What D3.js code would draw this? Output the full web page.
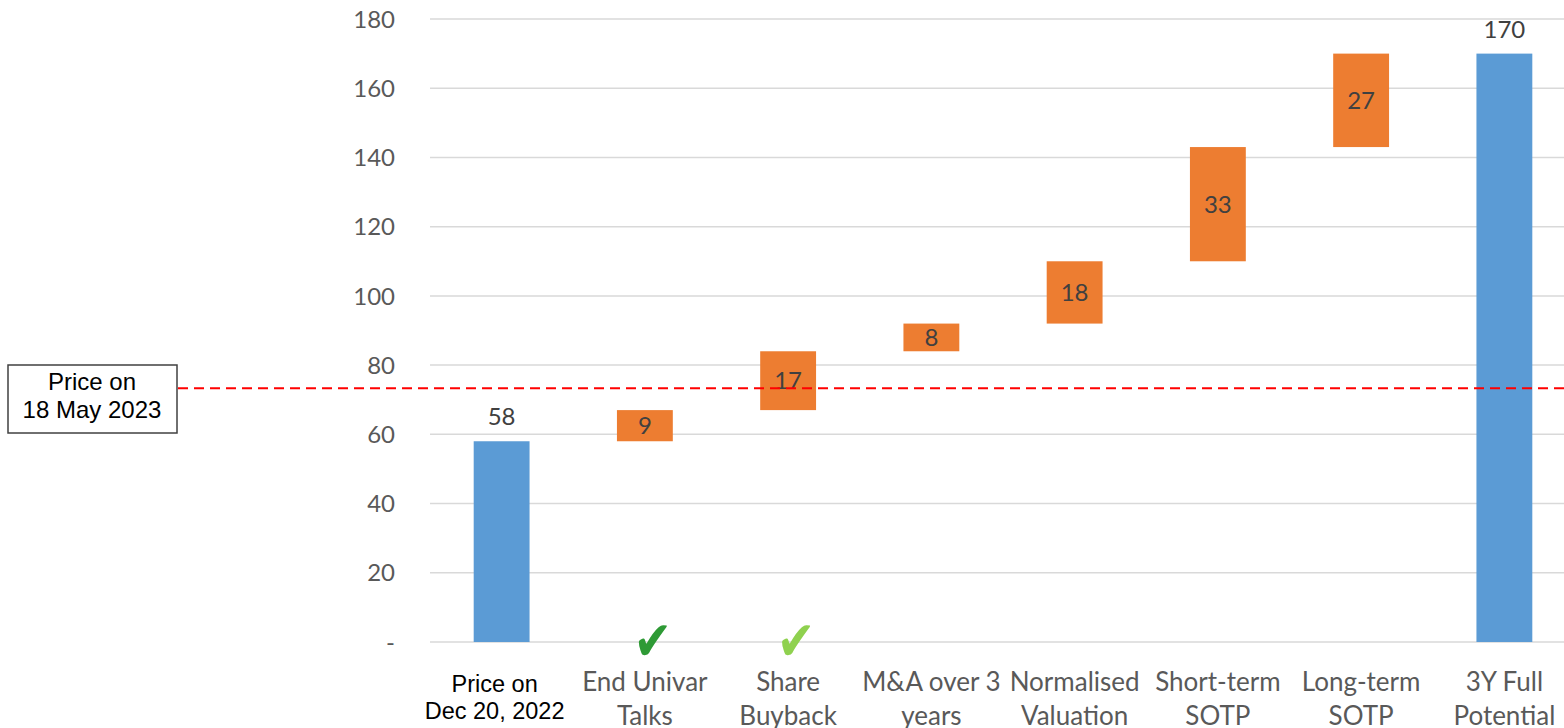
<!DOCTYPE html>
<html>
<head>
<meta charset="utf-8">
<script src="https://cdn.jsdelivr.net/npm/d3@7"></script>
<style>
  body { margin: 0; background: #fff; }
  svg { display: block; }
</style>
</head>
<body>
<div id="chart"></div>
<script>
// waterfall data
const categories = ["Price on Dec 20, 2022", "End Univar Talks", "Share Buyback", "M&A over 3 years",
  "Normalised Valuation", "Short-term SOTP", "Long-term SOTP", "3Y Full Potential"];
const labelLines = [["Price on", "Dec 20, 2022"], ["End Univar", "Talks"], ["Share", "Buyback"],
  ["M&A over 3", "years"], ["Normalised", "Valuation"], ["Short-term", "SOTP"], ["Long-term", "SOTP"],
  ["3Y Full", "Potential"]];
const steps = [58, 9, 17, 8, 18, 33, 27, 170];
const kinds = ["total", "delta", "delta", "delta", "delta", "delta", "delta", "total"];
const yTicks = [0, 20, 40, 60, 80, 100, 120, 140, 160, 180];
const currentPrice = 73.3;
const checks = [{cat: "End Univar Talks", color: "#2e9a35"}, {cat: "Share Buyback", color: "#8fd14f"}];

var width = 1564, height = 728;
var margin = {top: 19, right: -12, bottom: 86, left: 430};

var svg = d3.select("#chart").append("svg")
  .attr("width", width)
  .attr("height", height);

var x = d3.scaleBand()
  .domain(categories)
  .range([margin.left, width - margin.right]);

var y = d3.scaleLinear()
  .domain([0, 180])
  .range([height - margin.bottom, margin.top]);

// build the floating bars
var running = 0;
var bars = categories.map(function(c, i) {
  var lo, hi;
  if (kinds[i] == "total") { lo = 0; hi = steps[i]; running = steps[i]; }
  else { lo = running; hi = running + steps[i]; running = hi; }
  return {cat: c, lo: lo, hi: hi, v: steps[i], kind: kinds[i]};
});

// gridlines
svg.append("g")
  .selectAll("line")
  .data(yTicks)
  .enter().append("line")
  .attr("x1", margin.left)
  .attr("x2", width)
  .attr("y1", d => y(d))
  .attr("y2", d => y(d))
  .attr("stroke", "#d9d9d9")
  .attr("stroke-width", 1.5);

// y labels
svg.append("g")
  .selectAll("text")
  .data(yTicks)
  .enter().append("text")
  .attr("x", 395)
  .attr("y", d => y(d))
  .attr("dy", "0.36em")
  .attr("text-anchor", "end")
  .style("font-family", "Lato, 'Noto Sans', sans-serif")
  .style("font-size", "24px")
  .style("fill", "#595959")
  .text(d => d == 0 ? "-" : d);

var barW = x.bandwidth() * 0.39;

svg.append("g")
  .selectAll("rect")
  .data(bars)
  .enter().append("rect")
  .attr("x", d => x(d.cat) + (x.bandwidth() - barW) / 2)
  .attr("width", barW)
  .attr("y", d => y(d.hi))
  .attr("height", d => y(d.lo) - y(d.hi))
  .attr("fill", d => d.kind == "total" ? "#5b9bd5" : "#ed7d31");

// value labels
svg.append("g")
  .selectAll("text")
  .data(bars)
  .enter().append("text")
  .attr("x", d => x(d.cat) + x.bandwidth() / 2)
  .attr("y", d => d.kind == "total" ? y(d.hi) - 16 : (y(d.lo) + y(d.hi)) / 2)
  .attr("dy", d => d.kind == "total" ? "0" : "0.36em")
  .attr("text-anchor", "middle")
  .style("font-family", "Lato, 'Noto Sans', sans-serif")
  .style("font-size", "24px")
  .style("fill", "#404040")
  .text(d => d.v);

// category labels
var catG = svg.append("g")
  .selectAll("text")
  .data(categories)
  .enter().append("text")
  .attr("text-anchor", "middle")
  .style("font-family", (d, i) => i == 0 ? "'Liberation Sans', Arial, sans-serif" : "Lato, 'Noto Sans', sans-serif")
  .style("font-size", (d, i) => i == 0 ? "23.5px" : "26px")
  .style("fill", (d, i) => i == 0 ? "#000" : "#595959");

catG.selectAll("tspan")
  .data((d, i) => labelLines[i].map(t => ({t: t, cat: d, first: i == 0})))
  .enter().append("tspan")
  .attr("x", d => x(d.cat) + x.bandwidth() / 2 + (d.first ? -7 : 0))
  .attr("y", (d, j) => d.first ? 692 + j * 27 : 691 + j * 34)
  .text(d => d.t);

// check marks (glyph stretched a bit taller)
svg.append("g")
  .selectAll("text")
  .data(checks)
  .enter().append("text")
  .attr("transform", d => `translate(${x(d.cat) + x.bandwidth() / 2 + 8},660) scale(1.05,1.25)`)
  .attr("text-anchor", "middle")
  .style("font-family", "'DejaVu Sans', sans-serif")
  .style("font-size", "44px")
  .style("fill", d => d.color)
  .text("\u2714");

// current price line
svg.append("line")
  .attr("x1", 178)
  .attr("x2", width)
  .attr("y1", y(currentPrice))
  .attr("y2", y(currentPrice))
  .attr("stroke", "#ff0000")
  .attr("stroke-width", 2)
  .attr("stroke-dasharray", "10,6");

var box = svg.append("g");
box.append("rect")
  .attr("x", 8)
  .attr("y", 365)
  .attr("width", 169)
  .attr("height", 68)
  .attr("fill", "#fff")
  .attr("stroke", "#404040")
  .attr("stroke-width", 1.5);
box.append("text")
  .attr("text-anchor", "middle")
  .style("font-family", "'Liberation Sans', Arial, sans-serif")
  .style("font-size", "24px")
  .style("fill", "#000")
  .selectAll("tspan")
  .data(["Price on", "18 May 2023"])
  .enter().append("tspan")
  .attr("x", 92)
  .attr("y", (d, i) => 390 + i * 28)
  .text(d => d);
</script>
</body>
</html>
